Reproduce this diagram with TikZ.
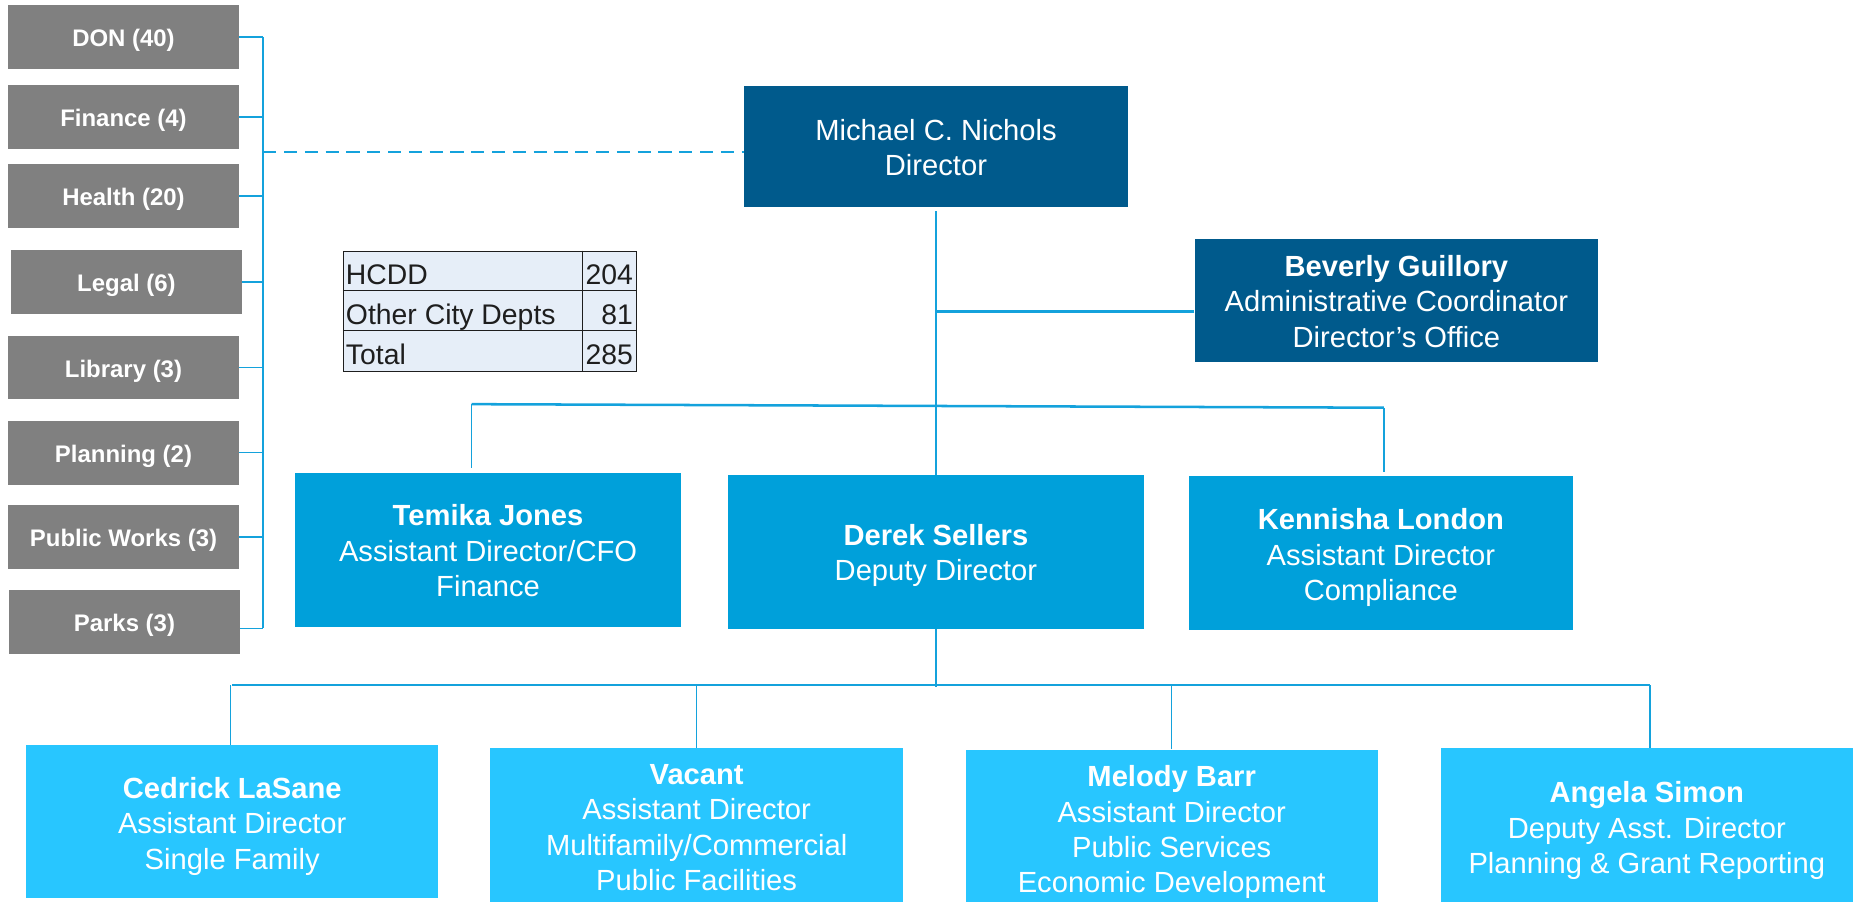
\documentclass[tikz,border=0pt]{standalone}
\usepackage{fontspec}
\setmainfont{Liberation Sans}
\definecolor{dkblue}{RGB}{0,90,140}
\definecolor{midblue}{RGB}{0,160,218}
\definecolor{ltblue}{RGB}{40,198,255}
\definecolor{grayb}{RGB}{128,128,128}
\definecolor{linec}{RGB}{20,162,220}
\definecolor{tablefill}{RGB}{230,238,248}
\definecolor{tabletext}{RGB}{30,30,30}
\begin{document}
\begin{tikzpicture}[x=0.75pt,y=-0.75pt,
  orgbox/.style={rectangle, inner sep=0pt},
  darkbox/.style={orgbox, fill=dkblue},
  midbox/.style={orgbox, fill=midblue, minimum height=97.5pt},
  lowbox/.style={orgbox, fill=ltblue, minimum width=261.75pt},
  orgtxt/.style={inner sep=0pt, align=center, text=white,
    font=\fontsize{18.5}{22.5}\selectfont},
  graybox/.style={rectangle, inner sep=0pt, fill=grayb,
    minimum width=146.25pt, minimum height=40.5pt},
  graytxt/.style={inner sep=0pt, text=white,
    font=\bfseries\fontsize{15.2}{18}\selectfont},
  conn/.style={draw=linec, line width=0.9pt},
  barline/.style={draw=linec, line width=1.6pt},
  dashconn/.style={draw=linec, line width=1.2pt, dash pattern=on 8.3pt off 4.9pt},
  tabtxt/.style={inner sep=0pt, text=tabletext, font=\fontsize{18}{20}\selectfont}
]
\path[use as bounding box] (0,0) rectangle (1568,763);

% ---- left column of other departments ----
\node[graybox] (don)      at (104.5,31.3)  {};
\node[graybox] (finance)  at (104.5,99.0)  {};
\node[graybox] (health)   at (104.5,165.8) {};
\node[graybox] (legal)    at (107.0,238.5) {};
\node[graybox] (library)  at (104.5,311.0) {};
\node[graybox] (planning) at (104.5,383.0) {};
\node[graybox] (pworks)   at (104.5,454.3) {};
\node[graybox] (parks)    at (105.3,526.0) {};
\node[graytxt] (don-t)      at ([yshift=-2.2pt]don.center)      {DON (40)};
\node[graytxt] (finance-t)  at ([yshift=-2.2pt]finance.center)  {Finance (4)};
\node[graytxt] (health-t)   at ([yshift=-2.2pt]health.center)   {Health (20)};
\node[graytxt] (legal-t)    at ([yshift=-2.2pt]legal.center)    {Legal (6)};
\node[graytxt] (library-t)  at ([yshift=-2.2pt]library.center)  {Library (3)};
\node[graytxt] (planning-t) at ([yshift=-2.2pt]planning.center) {Planning (2)};
\node[graytxt] (pworks-t)   at ([yshift=-2.2pt]pworks.center)   {Public Works (3)};
\node[graytxt] (parks-t)    at ([yshift=-2.2pt]parks.center)    {Parks (3)};

\coordinate (brtop) at (222.8,31.3);
\coordinate (brbot) at (222.8,531.8);
\draw[conn, line width=1.3pt] (brtop) -- (brbot);
\foreach \n in {don,finance,health,legal,library,planning,pworks}
  \draw[conn, line width=1.1pt] (\n.east) -- (\n.east -| brtop);
\draw[conn, line width=1.1pt] ([yshift=-4.3pt]parks.east) -- ([yshift=-4.3pt]parks.east -| brtop);

% ---- table ----
\node[rectangle, draw=tabletext, line width=0.6pt, fill=tablefill, anchor=north west,
      minimum width=186pt, minimum height=76.2pt, inner sep=0pt] (tbl) at (290.2,212) {};
\draw[tabletext, line width=0.6pt] (493.3,212) -- (493.3,313.6);
\draw[tabletext, line width=0.6pt] (290.2,245.9) -- (538.2,245.9);
\draw[tabletext, line width=0.6pt] (290.2,279.8) -- (538.2,279.8);
\node[tabtxt, anchor=base west] (t1a) at (292.5,241.1) {HCDD};
\node[tabtxt, anchor=base east] (t1b) at (535.8,241.1) {204};
\node[tabtxt, anchor=base west] (t2a) at (292.5,275.0) {Other City Depts};
\node[tabtxt, anchor=base east] (t2b) at (535.8,275.0) {81};
\node[tabtxt, anchor=base west] (t3a) at (292.5,308.8) {Total};
\node[tabtxt, anchor=base east] (t3b) at (535.8,308.8) {285};

% ---- main chart boxes ----
\node[darkbox, minimum width=243.6pt, minimum height=76.5pt] (michael) at (792,123.9) {};
\node[darkbox, minimum width=256pt, minimum height=77.9pt] (beverly) at (1181.6,254.1) {};
\node[midbox, minimum width=244.5pt] (temika) at (413,465.2) {};
\node[midbox, minimum width=264pt] (derek) at (792,467) {};
\node[midbox, minimum width=243.75pt, minimum height=98.1pt] (kennisha) at (1168.5,468.1) {};
\node[lowbox, minimum height=97.5pt] (cedrick) at (196.5,695.3) {};
\node[lowbox, minimum height=97.6pt] (vacant) at (589.5,697.9) {};
\node[lowbox, minimum height=96.4pt] (melody) at (991.5,698.75) {};
\node[lowbox, minimum height=97.6pt] (angela) at (1393.5,697.9) {};

% ---- box texts ----
\node[orgtxt] (michael-t) at ([yshift=-0.8pt]michael.center)
  {Michael C. Nichols\\Director};
\node[orgtxt] (beverly-t) at ([yshift=-0.8pt]beverly.center)
  {\textbf{Beverly Guillory}\\Administrative Coordinator\\Director’s Office};
\node[orgtxt] (temika-t) at ([yshift=-0.8pt]temika.center)
  {\textbf{Temika Jones}\\Assistant Director/CFO\\Finance};
\node[orgtxt] (derek-t) at ([yshift=-2.3pt]derek.center)
  {\textbf{Derek Sellers}\\Deputy Director};
\node[orgtxt] (kennisha-t) at ([yshift=-3pt]kennisha.center)
  {\textbf{Kennisha London}\\Assistant Director\\Compliance};
\node[orgtxt] (cedrick-t) at ([yshift=-3pt]cedrick.center)
  {\textbf{Cedrick LaSane}\\Assistant Director\\Single Family};
\node[orgtxt] (vacant-t) at ([yshift=-1.9pt]vacant.center)
  {\textbf{Vacant}\\Assistant Director\\Multifamily/Commercial\\Public Facilities};
\node[orgtxt] (melody-t) at ([yshift=-4.1pt]melody.center)
  {\textbf{Melody Barr}\\Assistant Director\\Public Services\\Economic Development};
\node[orgtxt] (angela-t) at ([yshift=-3.7pt]angela.center)
  {\textbf{Angela Simon}\\Deputy Asst. Director\\Planning \& Grant Reporting};

% dashed link from departments to director
\coordinate (dsh) at (222.8,128.9);
\draw[dashconn] (dsh) -- (dsh -| michael.west);

% director down to deputy
\draw[conn] ([yshift=-2.6pt]michael.south) -- (derek.north);
% director to administrative coordinator
\draw[barline] ([yshift=-7.2pt]beverly.west) -- ([yshift=-7.2pt]beverly.west -| michael.south);

% upper bar
\coordinate (tjd) at (399,342);
\coordinate (kld) at (1171,345);
\draw[barline] (tjd) -- (kld);
\draw[conn] (tjd) -- ([yshift=3pt]tjd |- temika.north);
\draw[conn] (kld) -- ([yshift=2pt]kld |- kennisha.north);

% lower bar
\coordinate (lbar) at (792,579.5);
\draw[conn] (derek.south) -- ([yshift=-1.5pt]lbar);
\draw[barline] (cedrick.north |- lbar) -- ([xshift=1.9pt]angela.north |- lbar);
\draw[conn] ([xshift=-1.1pt]cedrick.north) -- ([xshift=-1.1pt]cedrick.north |- lbar);
\draw[conn] (vacant.north) -- (vacant.north |- lbar);
\draw[conn] (melody.north) -- (melody.north |- lbar);
\draw[conn] ([xshift=1.9pt]angela.north) -- ([xshift=1.9pt]angela.north |- lbar);
\end{tikzpicture}
\end{document}
